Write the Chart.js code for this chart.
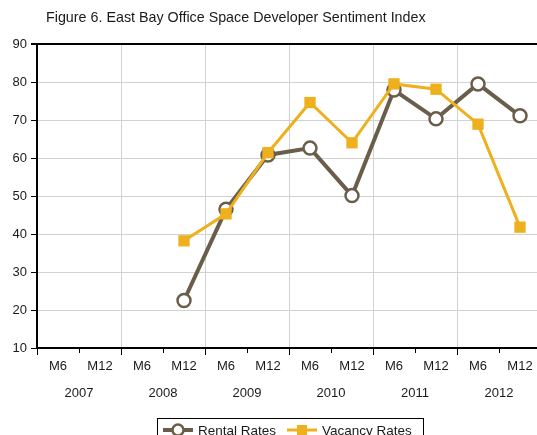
<!DOCTYPE html>
<html>
<head>
<meta charset="utf-8">
<script src="https://cdn.jsdelivr.net/npm/chart.js@4/dist/chart.umd.min.js"></script>
<style>
  html, body { margin: 0; padding: 0; background: #fff; overflow: hidden; }
  #wrap { position: relative; width: 560px; height: 435px; }
</style>
</head>
<body>
<div id="wrap"><canvas id="line" width="560" height="435"></canvas></div>
<script>
var titleText = 'Figure 6. East Bay Office Space Developer Sentiment Index';
var halfYears = ['M6', 'M12', 'M6', 'M12', 'M6', 'M12', 'M6', 'M12', 'M6', 'M12', 'M6', 'M12'];
var years = ['2007', '2008', '2009', '2010', '2011', '2012'];
var rentalRates = [null, null, null, 22.5, 46.5, 60.8, 62.6, 50.1, 77.9, 70.3, 79.5, 71.1];
var vacancyRates = [null, null, null, 38.2, 45.3, 61.4, 74.6, 64.0, 79.5, 78.1, 68.9, 41.8];
var yTicks = [10, 20, 30, 40, 50, 60, 70, 80, 90];

var brown = '#6a5e4b';
var gold = '#eeb01d';
var gridGray = '#d2d2d2';
var font = "'Liberation Sans', Arial, sans-serif";

// title text at top left
var titlePlugin = {
    id: 'figTitle',
    afterDraw: function(chart) {
        var ctx = chart.ctx;
        ctx.save();
        ctx.fillStyle = '#1a1a1a';
        ctx.font = '14.3px ' + font;
        ctx.textBaseline = 'middle';
        ctx.textAlign = 'left';
        ctx.fillText(titleText, 46, 18);
        ctx.restore();
    }
};

// boxed legend with line + marker icons
var legendPlugin = {
    id: 'boxLegend',
    afterDraw: function(chart) {
        var ctx = chart.ctx;
        var sets = chart.data.datasets;
        var y = 430;
        ctx.save();
        ctx.strokeStyle = '#000';
        ctx.lineWidth = 1;
        ctx.strokeRect(157.5, 418.5, 266, 40);

        var items = [
            { ds: sets[1], x: 163 },
            { ds: sets[0], x: 287 }
        ];
        ctx.font = '13.5px ' + font;
        ctx.textBaseline = 'middle';
        items.forEach(function(it) {
            var ds = it.ds;
            ctx.strokeStyle = ds.borderColor;
            ctx.lineWidth = ds.borderWidth;
            ctx.beginPath();
            ctx.moveTo(it.x, y);
            ctx.lineTo(it.x + 30, y);
            ctx.stroke();
            var cx = it.x + 15;
            if (ds.pointStyle === 'circle') {
                ctx.fillStyle = '#fff';
                ctx.lineWidth = 2.5;
                ctx.beginPath();
                ctx.arc(cx, y, 5.5, 0, Math.PI * 2);
                ctx.fill();
                ctx.stroke();
            } else {
                ctx.fillStyle = ds.pointBackgroundColor;
                ctx.fillRect(cx - 5, y - 5, 10, 10);
            }
            ctx.fillStyle = '#1a1a1a';
            ctx.fillText(ds.label, it.x + 35, y + 1);
        });
        ctx.restore();
    }
};

var ctx = document.getElementById('line').getContext('2d');
var chart = new Chart(ctx, {
    type: 'line',
    data: {
        labels: halfYears,
        datasets: [
            {
                label: 'Vacancy Rates',
                data: vacancyRates,
                borderColor: gold,
                backgroundColor: gold,
                borderWidth: 3,
                pointStyle: 'rect',
                pointRadius: 8,
                pointBackgroundColor: gold,
                pointBorderColor: gold,
                pointBorderWidth: 0,
                tension: 0,
                spanGaps: false,
                order: 0
            },
            {
                label: 'Rental Rates',
                data: rentalRates,
                borderColor: brown,
                backgroundColor: '#fff',
                borderWidth: 4,
                pointStyle: 'circle',
                pointRadius: 6.5,
                pointBackgroundColor: '#fff',
                pointBorderColor: brown,
                pointBorderWidth: 2.5,
                tension: 0,
                spanGaps: false,
                order: 1
            }
        ]
    },
    options: {
        responsive: false,
        animation: false,
        events: [],
        layout: { padding: { top: 44, right: 19, bottom: 27, left: 0 } },
        plugins: {
            legend: { display: false },
            title: { display: false },
            tooltip: { enabled: false }
        },
        scales: {
            x: {
                type: 'category',
                position: 'bottom',
                offset: true,
                grid: {
                    offset: true,
                    color: function(c) { return c.index !== undefined && c.index % 2 === 0 ? gridGray : 'rgba(0,0,0,0)'; },
                    tickColor: '#000',
                    tickLength: 7,
                    tickBorderDash: function(c) { return c.index % 2 === 1 ? [4, 100] : []; }
                },
                border: { color: '#000', width: 2 },
                ticks: { color: '#1a1a1a', font: { family: font, size: 13 }, padding: 4, maxRotation: 0, autoSkip: false },
                afterFit: function(s) { s.height = 30; }
            },
            x2: {
                type: 'category',
                position: 'bottom',
                labels: years,
                offset: true,
                grid: { display: false },
                border: { display: false },
                ticks: { color: '#1a1a1a', font: { family: font, size: 13 }, padding: 0, maxRotation: 0, autoSkip: false },
                afterFit: function(s) { s.height = 30; }
            },
            y: {
                min: 10,
                max: 90,
                afterBuildTicks: function(s) { s.ticks = yTicks.map(function(v) { return { value: v }; }); },
                grid: {
                    color: function(c) { return c.tick && c.tick.value === 90 ? '#000' : gridGray; },
                    lineWidth: function(c) { return c.tick && c.tick.value === 90 ? 2 : 1; },
                    tickColor: '#000',
                    tickLength: 6
                },
                border: { color: '#000', width: 2 },
                ticks: { color: '#1a1a1a', font: { family: font, size: 13 }, padding: 4 },
                afterFit: function(s) { s.width = 37; }
            }
        }
    },
    plugins: [titlePlugin, legendPlugin]
});
</script>
</body>
</html>
